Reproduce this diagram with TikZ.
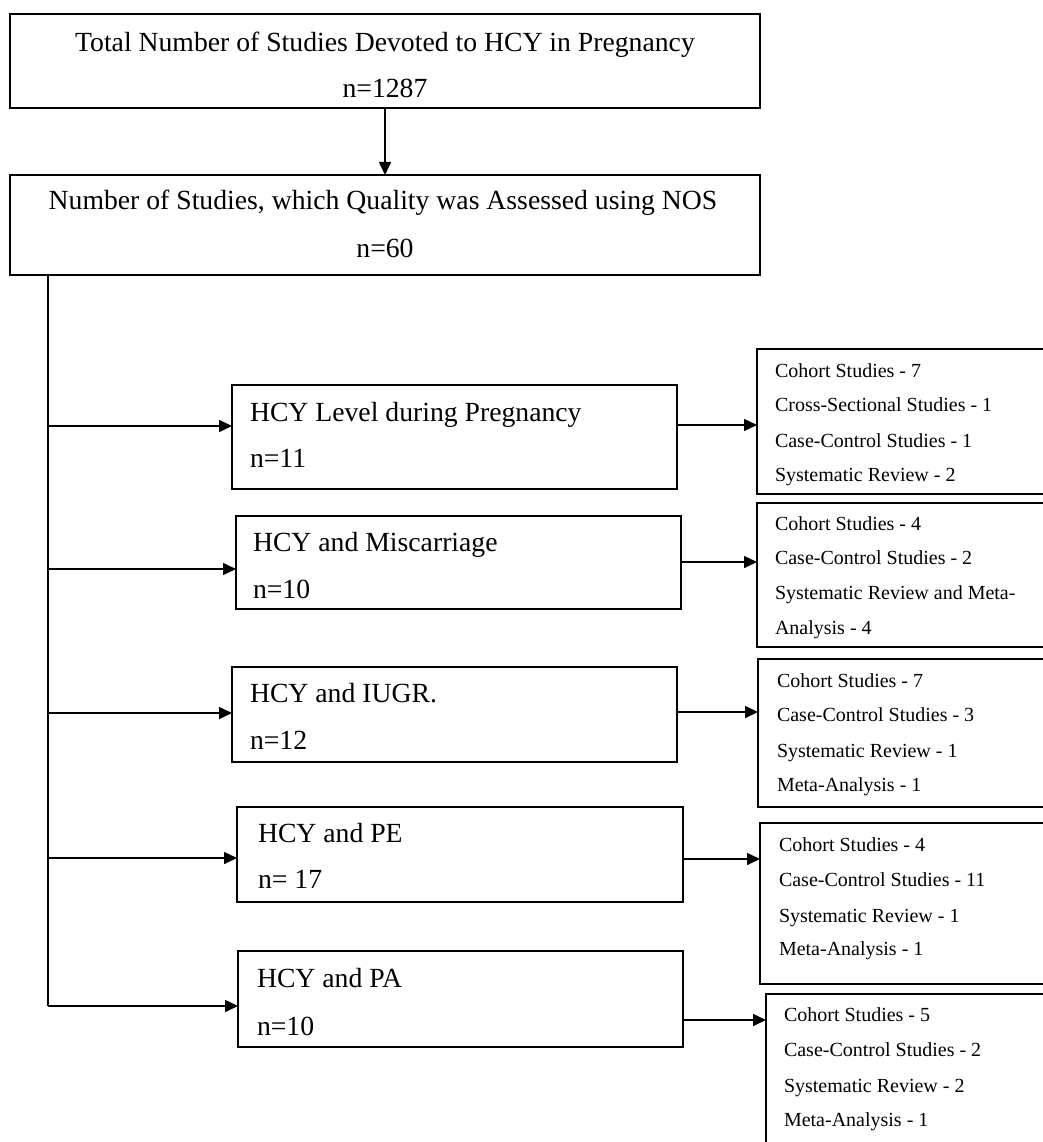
\documentclass[tikz,border=0pt]{standalone}
\usepackage{fontspec}
\setmainfont{Liberation Serif}
\usetikzlibrary{arrows.meta}
\begin{document}
\begin{tikzpicture}[x=1pt,y=-1pt,
  box/.style={draw, line width=1.7pt, rectangle, inner sep=0pt, outer sep=0pt},
  big/.style={inner sep=0pt, outer sep=0pt, font=\fontsize{27.7}{33}\selectfont},
  small/.style={inner sep=0pt, outer sep=0pt, anchor=base west, font=\fontsize{20}{24}\selectfont},
  arr/.style={line width=1.6pt, -{Triangle[length=13pt,width=12pt]}},
  trunk/.style={line width=1.7pt},
]
\useasboundingbox (0,0) rectangle (1043,1142);
\fill[white] (0,0) rectangle (1043,1142);
\clip (0,0) rectangle (1043,1142);

% top boxes
\node[box, minimum width=750pt, minimum height=94pt] (t1) at (385,61) {};
\node[big, anchor=base] (t1a) at (385,52) {Total Number of Studies Devoted to HCY in Pregnancy};
\node[big, anchor=base] (t1b) at (385,98) {n=1287};
\node[box, minimum width=750pt, minimum height=100pt] (t2) at (385,225) {};
\node[big, anchor=base] (t2a) at (383,209) {Number of Studies, which Quality was Assessed using NOS};
\node[big, anchor=base] (t2b) at (385,257) {n=60};
\draw[arr] (t1) -- (t2);

% middle boxes
\node[box, minimum width=445pt, minimum height=104pt] (m1) at (454.5,437) {};
\node[big, anchor=base west] (m1a) at (250,421) {HCY Level during Pregnancy};
\node[big, anchor=base west] (m1b) at (250,467) {n=11};
\node[box, minimum width=445pt, minimum height=93pt] (m2) at (458.5,562.5) {};
\node[big, anchor=base west] (m2a) at (253,551) {HCY and Miscarriage};
\node[big, anchor=base west] (m2b) at (253,598) {n=10};
\node[box, minimum width=445pt, minimum height=95pt] (m3) at (454.5,714.5) {};
\node[big, anchor=base west] (m3a) at (250,702) {HCY and IUGR.};
\node[big, anchor=base west] (m3b) at (250,749) {n=12};
\node[box, minimum width=446pt, minimum height=95pt] (m4) at (460,854.5) {};
\node[big, anchor=base west] (m4a) at (258,842) {HCY and PE};
\node[big, anchor=base west] (m4b) at (258,888) {n= 17};
\node[box, minimum width=445pt, minimum height=96pt] (m5) at (460.5,999) {};
\node[big, anchor=base west] (m5a) at (257,987) {HCY and PA};
\node[big, anchor=base west] (m5b) at (257,1035) {n=10};

% right boxes
\node[box, minimum width=293pt, minimum height=145pt] (r1) at (903.5,421.5) {};
\node[small] (r1a) at (775,377) {Cohort Studies - 7};
\node[small] (r1b) at (775,411) {Cross-Sectional Studies - 1};
\node[small] (r1c) at (775,447) {Case-Control Studies - 1};
\node[small] (r1d) at (775,481) {Systematic Review - 2};
\node[box, minimum width=293pt, minimum height=144pt] (r2) at (903.5,575) {};
\node[small] (r2a) at (775,530) {Cohort Studies - 4};
\node[small] (r2b) at (775,564) {Case-Control Studies - 2};
\node[small] (r2c) at (775,599) {Systematic Review and Meta-};
\node[small] (r2d) at (775,634) {Analysis - 4};
\node[box, minimum width=292pt, minimum height=148pt] (r3) at (904,733) {};
\node[small] (r3a) at (777,687) {Cohort Studies - 7};
\node[small] (r3b) at (777,721) {Case-Control Studies - 3};
\node[small] (r3c) at (777,757) {Systematic Review - 1};
\node[small] (r3d) at (777,791) {Meta-Analysis - 1};
\node[box, minimum width=290pt, minimum height=161pt] (r4) at (905,903.5) {};
\node[small] (r4a) at (779,851) {Cohort Studies - 4};
\node[small] (r4b) at (779,886) {Case-Control Studies - 11};
\node[small] (r4c) at (779,922) {Systematic Review - 1};
\node[small] (r4d) at (779,955) {Meta-Analysis - 1};
\node[box, minimum width=284pt, minimum height=166pt] (r5) at (908,1077) {};
\node[small] (r5a) at (784,1021) {Cohort Studies - 5};
\node[small] (r5b) at (784,1056) {Case-Control Studies - 2};
\node[small] (r5c) at (784,1092) {Systematic Review - 2};
\node[small] (r5d) at (784,1126) {Meta-Analysis - 1};

% trunk and branches
\coordinate (j1) at (48,426);
\coordinate (j2) at (48,569);
\coordinate (j3) at (48,713);
\coordinate (j4) at (48,858);
\coordinate (j5) at (48,1006);
\draw[trunk] (t2.south -| j5) -- (j5);
\draw[arr] (j1) -- (j1 -| m1.west);
\draw[arr] (j2) -- (j2 -| m2.west);
\draw[arr] (j3) -- (j3 -| m3.west);
\draw[arr] (j4) -- (j4 -| m4.west);
\draw[arr] (j5) -- (j5 -| m5.west);

% right connectors
\coordinate (k1) at (720,425);
\coordinate (k2) at (720,562);
\coordinate (k3) at (720,712);
\coordinate (k4) at (720,859);
\coordinate (k5) at (720,1020);
\draw[arr] (m1.east |- k1) -- (r1.west |- k1);
\draw[arr] (m2.east |- k2) -- (r2.west |- k2);
\draw[arr] (m3.east |- k3) -- (r3.west |- k3);
\draw[arr] (m4.east |- k4) -- (r4.west |- k4);
\draw[arr] (m5.east |- k5) -- (r5.west |- k5);
\end{tikzpicture}
\end{document}
